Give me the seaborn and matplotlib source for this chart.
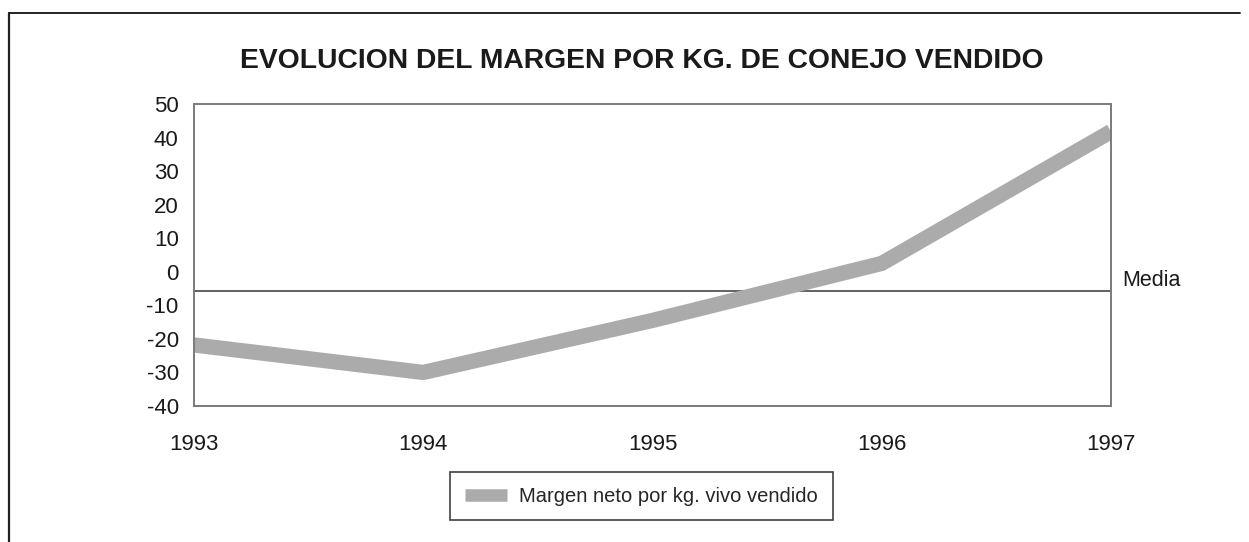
import matplotlib
matplotlib.use("Agg")
import matplotlib.pyplot as plt
from matplotlib.lines import Line2D
import seaborn as sns
import pandas as pd

years = [1993, 1994, 1995, 1996, 1997]
margen = [-21.8, -30.0, -14.5, 2.5, 41.8]
media = -5.7
yticks = [50, 40, 30, 20, 10, 0, -10, -20, -30, -40]
title = "EVOLUCION DEL MARGEN POR KG. DE CONEJO VENDIDO"
serie = "Margen neto por kg. vivo vendido"

sns.set_style("white")
plt.rcParams['font.family'] = ['Liberation Sans Narrow', 'Liberation Sans', 'DejaVu Sans']

df = pd.DataFrame({"year": years, "margen": margen})

fig = plt.figure(figsize=(12.49, 5.42), dpi=100)
ax = fig.add_axes([0.1553, 0.2509, 0.7342, 0.5572])

line_color = "#ababab"
sns.lineplot(data=df, x="year", y="margen", ax=ax, color=line_color,
             linewidth=11, solid_joinstyle="round", solid_capstyle="butt",
             legend=False)

ax.axhline(media, color="#555555", linewidth=1.3, zorder=1)
ax.text(1.012, media, "Media", transform=ax.get_yaxis_transform(),
        ha="left", va="bottom", fontsize=15.5, color="#1a1a1a")

ax.set_xlim(years[0], years[-1])
ax.set_ylim(-40, 50)
ax.set_xticks(years)
ax.set_xticklabels([str(y) for y in years], fontsize=16, color="#1a1a1a")
ax.set_yticks(yticks)
ax.set_yticklabels([str(t) for t in yticks], fontsize=16, color="#1a1a1a")
ax.tick_params(axis="x", length=0, pad=20)
ax.tick_params(axis="y", length=0, pad=11)
ax.set_xlabel("")
ax.set_ylabel("")
for s in ax.spines.values():
    s.set_visible(True)
    s.set_color("#7a7a7a")
    s.set_linewidth(1.4)

fig.text(0.514, 0.887, title, ha="center", va="center", fontsize=20.3,
         fontweight="bold", family=['Liberation Sans', 'DejaVu Sans'], color="#1a1a1a")

handle = Line2D([0], [0], color=line_color, linewidth=9, solid_capstyle="butt")
leg = fig.legend([handle], [serie], loc="center", bbox_to_anchor=(0.5136, 0.084),
                 fontsize=14.5, frameon=True, fancybox=False, handlelength=2.1,
                 handletextpad=0.6, borderpad=0.72, borderaxespad=0)
leg.get_frame().set_edgecolor("#111111")
leg.get_frame().set_linewidth(1.2)

# outer frame (left and top edges)
fig.add_artist(Line2D([0.0072, 0.0072], [0.0, 0.976], transform=fig.transFigure,
                      color="#222222", linewidth=1.6))
fig.add_artist(Line2D([0.0072, 0.993], [0.976, 0.976], transform=fig.transFigure,
                      color="#222222", linewidth=1.4))

fig.savefig("out.png", dpi=100)
